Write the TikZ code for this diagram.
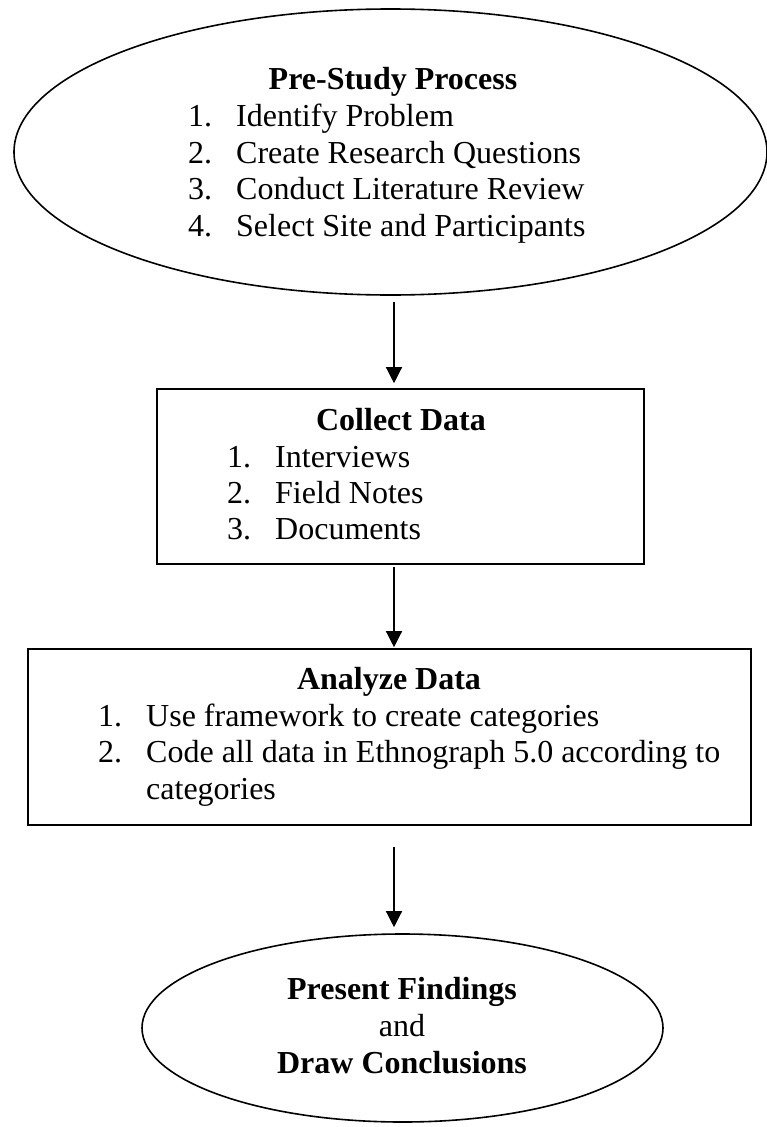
\documentclass[tikz,border=0pt]{standalone}
\usepackage{fontspec}
\setmainfont{Liberation Serif}
\usetikzlibrary{shapes.geometric,arrows.meta}
\begin{document}
\begin{tikzpicture}[x=1pt,y=-1pt,
  every node/.style={font=\fontsize{32}{36}\selectfont},
  shapeline/.style={draw=black,line width=1.6pt,inner sep=0pt},
  oval/.style={shapeline,ellipse},
  stepbox/.style={shapeline,rectangle},
  head/.style={inner sep=0pt,anchor=base,font=\fontsize{32}{36}\selectfont\bfseries},
  plain/.style={inner sep=0pt,anchor=base},
  item/.style={inner sep=0pt,anchor=base west},
  arr/.style={line width=1.3pt,-{Triangle[length=16pt,width=16pt]}}
]
\useasboundingbox (0,0) rectangle (767,1127);

% shapes
\node[oval,minimum width=753pt,minimum height=286pt] (pre) at (390.5,152) {};
\node[stepbox,minimum width=487pt,minimum height=175pt] (collect) at (400.5,476.5) {};
\node[stepbox,minimum width=723pt,minimum height=176pt] (analyze) at (389.5,737) {};
\node[oval,minimum width=521pt,minimum height=188pt] (present) at (402.5,1028) {};

% arrow axis
\coordinate (axis) at (394,0);
\draw[arr,shorten <=6pt,shorten >=5pt] (pre.south -| axis) -- (collect.north -| axis);
\draw[arr,shorten <=2pt,shorten >=1pt] (collect.south -| axis) -- (analyze.north -| axis);
\draw[arr,shorten <=21pt,shorten >=6pt] (analyze.south -| axis) -- (present.north -| axis);

% pre-study text
\node[head] (preh) at (393,89) {Pre-Study Process};
\node[item] (pn1) at (188,126) {1.};
\node[item] (pt1) at (236,126) {Identify Problem};
\node[item] (pn2) at (188,163) {2.};
\node[item] (pt2) at (236,163) {Create Research Questions};
\node[item] (pn3) at (188,199) {3.};
\node[item] (pt3) at (236,199) {Conduct Literature Review};
\node[item] (pn4) at (188,236) {4.};
\node[item] (pt4) at (236,236) {Select Site and Participants};

% collect text
\node[head] (colh) at (401,430) {Collect Data};
\node[item] (cn1) at (227,467) {1.};
\node[item] (ct1) at (275,467) {Interviews};
\node[item] (cn2) at (227,503) {2.};
\node[item] (ct2) at (275,503) {Field Notes};
\node[item] (cn3) at (227,539) {3.};
\node[item] (ct3) at (275,539) {Documents};

% analyze text
\node[head] (anh) at (389,689) {Analyze Data};
\node[item] (an1) at (98,726) {1.};
\node[item] (at1) at (146,726) {Use framework to create categories};
\node[item] (an2) at (98,762) {2.};
\node[item] (at2) at (146,762) {Code all data in Ethnograph 5.0 according to};
\node[item] (at2b) at (146,799) {categories};

% present text
\node[head] (prh1) at (402,999) {Present Findings};
\node[plain] (prand) at (402,1036) {and};
\node[head] (prh2) at (402,1073) {Draw Conclusions};
\end{tikzpicture}
\end{document}
